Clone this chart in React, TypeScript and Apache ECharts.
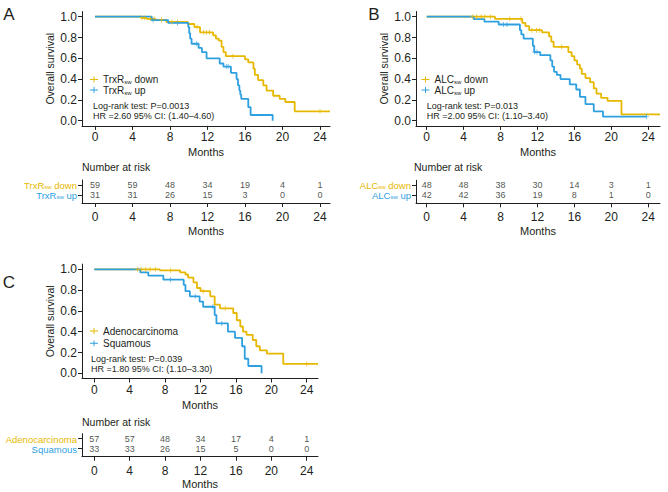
import React, { useEffect, useRef } from 'react';
import * as echarts from 'echarts';

const GOLD = '#E7B800';
const BLUE = '#2E9FDF';
const TXT = '#231f20';
const AX = '#231f20';
const FONT = '"Liberation Sans", Arial, Helvetica, sans-serif';

const monthTicks = [0, 4, 8, 12, 16, 20, 24];
const survTicks = [0, 0.2, 0.4, 0.6, 0.8, 1.0];

// ---------- Panel A : TrxR ----------
const trxDownTimes = [0, 5.0, 5.5, 6.4, 7.6, 9.9, 10.6, 11.2, 12.6, 12.9, 13.2, 13.5, 13.7, 13.95, 16.0, 16.35, 16.9, 17.05, 17.4, 17.95, 18.3, 19.0, 19.7, 20.3, 21.3, 25.07];
const trxDownSurv = [1.0, 0.99, 0.98, 0.97, 0.95, 0.93, 0.9, 0.85, 0.82, 0.79, 0.77, 0.71, 0.66, 0.62, 0.59, 0.56, 0.5, 0.44, 0.39, 0.34, 0.29, 0.24, 0.21, 0.18, 0.09, 0.09];
const trxDownCensor = [5.0, 5.3, 5.9, 6.3, 7.1, 8.2, 8.8, 10.9, 11.6, 11.9, 12.2, 14.7, 24.0];
const trxUpTimes = [0, 6.05, 7.8, 9.95, 10.05, 10.15, 10.3, 11.05, 11.4, 11.9, 13.3, 13.7, 14.5, 15.1, 15.25, 15.4, 15.5, 15.6, 16.35, 16.6, 18.95];
const trxUpSurv = [1.0, 0.968, 0.94, 0.9, 0.84, 0.79, 0.74, 0.7, 0.66, 0.6, 0.55, 0.52, 0.46, 0.4, 0.34, 0.29, 0.25, 0.21, 0.13, 0.055, 0.0];
const trxUpCensor = [6.2, 8.8, 10.85, 14.0, 14.2];
const trxDownRisk = [59, 59, 48, 34, 19, 4, 1];
const trxUpRisk = [31, 31, 26, 15, 3, 0, 0];

// ---------- Panel B : ALC ----------
const alcDownTimes = [0, 7.4, 10.35, 10.7, 11.1, 12.5, 13.25, 13.5, 13.75, 15.35, 15.7, 16.0, 16.3, 16.6, 16.8, 17.2, 17.7, 18.1, 18.4, 18.9, 19.6, 21.1, 25.28];
const alcDownSurv = [1.0, 0.98, 0.94, 0.91, 0.87, 0.85, 0.81, 0.76, 0.71, 0.66, 0.62, 0.58, 0.54, 0.5, 0.45, 0.41, 0.37, 0.31, 0.26, 0.22, 0.19, 0.06, 0.06];
const alcDownCensor = [5.0, 5.4, 5.9, 6.3, 6.9, 9.0, 10.2, 11.4, 11.9, 12.2, 14.6];
const alcUpTimes = [0, 5.1, 6.25, 7.8, 10.1, 10.25, 10.5, 11.5, 11.65, 12.3, 13.4, 13.6, 13.8, 14.1, 14.5, 15.5, 16.2, 16.6, 17.2, 18.1, 19.1, 23.8];
const alcUpSurv = [1.0, 0.976, 0.952, 0.925, 0.87, 0.83, 0.79, 0.72, 0.66, 0.63, 0.58, 0.52, 0.47, 0.44, 0.4, 0.35, 0.3, 0.23, 0.16, 0.09, 0.04, 0.04];
const alcUpCensor = [8.3, 8.7, 11.7, 11.95, 23.8];
const alcDownRisk = [48, 48, 38, 30, 14, 3, 1];
const alcUpRisk = [42, 42, 36, 19, 8, 1, 0];

// ---------- Panel C : histology ----------
const adenoTimes = [0, 7.4, 9.7, 10.3, 10.6, 11.2, 11.6, 12.0, 13.1, 13.6, 14.2, 15.7, 16.1, 16.5, 16.8, 17.2, 17.9, 18.3, 18.7, 19.5, 21.35, 25.28];
const adenoSurv = [1.0, 0.99, 0.97, 0.95, 0.92, 0.875, 0.82, 0.79, 0.74, 0.66, 0.625, 0.58, 0.51, 0.45, 0.4, 0.37, 0.32, 0.26, 0.22, 0.19, 0.09, 0.09];
const adenoCensor = [4.9, 5.3, 5.8, 6.3, 6.9, 8.6, 12.3, 14.8, 24.0];
const squamTimes = [0, 5.2, 6.1, 7.8, 10.1, 10.3, 10.8, 11.9, 12.3, 13.6, 13.8, 15.1, 15.9, 16.7, 17.0, 17.4, 18.9];
const squamSurv = [1.0, 0.97, 0.94, 0.9, 0.85, 0.79, 0.74, 0.69, 0.64, 0.56, 0.48, 0.4, 0.34, 0.26, 0.14, 0.07, 0.0];
const squamCensor = [8.6, 11.4, 13.4, 14.4];
const adenoRisk = [57, 57, 48, 34, 17, 4, 1];
const squamRisk = [33, 33, 26, 15, 5, 0, 0];

const PLUS = 'path://M4.2,0H5.8V10H4.2Z M0,4.2H10V5.8H0Z';
const LEG_ICON = 'path://M0,4.4H10V5.6H0Z M4.4,1.4H5.6V8.6H4.4Z';

function survAt(times: number[], surv: number[], t: number) {
  let s = surv[0];
  for (let i = 0; i < times.length; i++) if (times[i] <= t) s = surv[i];
  return s;
}

function richName(name: string, p: string) {
  const m = name.match(/^(TrxR|ALC)sw(.*)$/);
  if (m) return `{${p}m|${m[1]}}{${p}s|sw}{${p}m|${m[2]}}`;
  return `{${p}m|${name}}`;
}

type Curve = { name: string; times: number[]; surv: number[]; censor: number[]; color: string };

const panels = [
  {
    letter: 'A', letterPos: [9, 14],
    plot: { left: 82, top: 11.5, width: 248, height: 114.4 },
    table: { left: 82, top: 180, width: 248, height: 23 },
    xMin: -1.387, xMax: 25.067,
    curves: [
      { name: 'TrxRsw down', times: trxDownTimes, surv: trxDownSurv, censor: trxDownCensor, color: GOLD },
      { name: 'TrxRsw up', times: trxUpTimes, surv: trxUpSurv, censor: trxUpCensor, color: BLUE },
    ] as Curve[],
    risk: [trxDownRisk, trxUpRisk],
    legend: { left: 90, top: 74.5, gap: 0 },
    stats: { x: 93, y: 106, dy: 10, lines: ['Log-rank test: P=0.0013', 'HR =2.60 95% CI: (1.40–4.60)'] },
    nar: [82, 167],
  },
  {
    letter: 'B', letterPos: [374, 14],
    plot: { left: 416, top: 11.5, width: 244, height: 114.4 },
    table: { left: 416, top: 180.3, width: 244, height: 23 },
    xMin: -1.159, xMax: 25.277,
    curves: [
      { name: 'ALCsw down', times: alcDownTimes, surv: alcDownSurv, censor: alcDownCensor, color: GOLD },
      { name: 'ALCsw up', times: alcUpTimes, surv: alcUpSurv, censor: alcUpCensor, color: BLUE },
    ] as Curve[],
    risk: [alcDownRisk, alcUpRisk],
    legend: { left: 421.5, top: 74.5, gap: 0 },
    stats: { x: 426.7, y: 106, dy: 10, lines: ['Log-rank test: P=0.013', 'HR =2.00 95% CI: (1.10–3.40)'] },
    nar: [414, 167],
  },
  {
    letter: 'C', letterPos: [9, 282],
    plot: { left: 82, top: 264.1, width: 236, height: 114.4 },
    table: { left: 82, top: 433.7, width: 236, height: 23 },
    xMin: -1.39, xMax: 25.277,
    curves: [
      { name: 'Adenocarcinoma', times: adenoTimes, surv: adenoSurv, censor: adenoCensor, color: GOLD },
      { name: 'Squamous', times: squamTimes, surv: squamSurv, censor: squamCensor, color: BLUE },
    ] as Curve[],
    risk: [adenoRisk, squamRisk],
    legend: { left: 90, top: 326, gap: 2.3 },
    stats: { x: 91, y: 359, dy: 10.3, lines: ['Log-rank test: P=0.039', 'HR =1.80 95% CI: (1.10–3.30)'] },
    nar: [82, 422],
  },
];

function buildOption() {
  const grid: any[] = [];
  const xAxis: any[] = [];
  const yAxis: any[] = [];
  const series: any[] = [];
  const legend: any[] = [];
  const graphic: any[] = [];

  const axisLine = { show: true, onZero: false, lineStyle: { color: AX, width: 1 } };
  const labelBase = { color: TXT, fontFamily: FONT };

  panels.forEach((p) => {
    const gi = grid.length;
    grid.push({ ...p.plot });
    grid.push({ ...p.table });

    const xBase = {
      type: 'value', min: p.xMin, max: p.xMax,
      axisLine,
      splitLine: { show: false },
      name: 'Months', nameLocation: 'middle',
      nameTextStyle: { ...labelBase, fontSize: 11 },
    };
    xAxis.push({
      ...xBase, gridIndex: gi, nameGap: 21,
      axisTick: { show: true, length: 4, customValues: monthTicks, lineStyle: { color: AX } },
      axisLabel: { ...labelBase, fontSize: 12, margin: 5, customValues: monthTicks },
    });
    xAxis.push({
      ...xBase, gridIndex: gi + 1, nameGap: 22,
      axisTick: { show: true, length: 4, customValues: monthTicks, lineStyle: { color: AX } },
      axisLabel: { ...labelBase, fontSize: 12, margin: 8, customValues: monthTicks },
    });

    yAxis.push({
      gridIndex: gi, type: 'value', min: -0.05, max: 1.05,
      axisLine,
      splitLine: { show: false },
      axisTick: { show: true, length: 4, customValues: survTicks, lineStyle: { color: AX } },
      axisLabel: { ...labelBase, fontSize: 12, margin: 5, customValues: survTicks, formatter: (v: number) => v.toFixed(1) },
      name: 'Overall survival', nameLocation: 'middle', nameGap: 27, nameRotate: 90,
      nameTextStyle: { ...labelBase, fontSize: 10.5 },
    });
    const [down, up] = p.curves;
    yAxis.push({
      gridIndex: gi + 1, type: 'value', min: 0, max: 2.3,
      axisLine,
      splitLine: { show: false },
      axisTick: { show: true, length: 4, customValues: [0.8, 1.8], lineStyle: { color: AX } },
      axisLabel: {
        customValues: [0.8, 1.8], margin: 5, hideOverlap: false,
        showMinLabel: true, showMaxLabel: true,
        formatter: (v: number) => (v > 1 ? richName(down.name, 'g') : richName(up.name, 'b')),
        rich: {
          gm: { color: GOLD, fontSize: 9.5, lineHeight: 9, verticalAlign: 'top', fontFamily: FONT },
          gs: { color: GOLD, fontSize: 6, lineHeight: 9, verticalAlign: 'top', padding: [3, 0, 0, 0], fontFamily: FONT },
          bm: { color: BLUE, fontSize: 9.5, lineHeight: 9, verticalAlign: 'top', fontFamily: FONT },
          bs: { color: BLUE, fontSize: 6, lineHeight: 9, verticalAlign: 'top', padding: [3, 0, 0, 0], fontFamily: FONT },
        },
      },
    });

    p.curves.forEach((c) => {
      series.push({
        type: 'line', name: c.name, xAxisIndex: gi, yAxisIndex: gi,
        data: c.times.map((t, i) => [t, c.surv[i]]),
        step: 'end', showSymbol: false, symbol: 'none',
        lineStyle: { color: c.color, width: 1.8 },
        itemStyle: { color: c.color },
        z: 3,
      });
      series.push({
        type: 'scatter', name: c.name + ' censored', xAxisIndex: gi, yAxisIndex: gi,
        data: c.censor.map((t) => [t, survAt(c.times, c.surv, t)]),
        symbol: PLUS, symbolSize: 5,
        itemStyle: { color: c.color },
        silent: true, z: 4,
      });
    });

    const rows = [1.8, 0.8];
    p.risk.forEach((arr, r) => {
      series.push({
        type: 'scatter', name: `${p.letter} risk ${r}`, xAxisIndex: gi + 1, yAxisIndex: gi + 1,
        data: monthTicks.map((m, i) => [m, rows[r], arr[i]]),
        symbolSize: 1,
        itemStyle: { color: 'rgba(0,0,0,0)' },
        label: {
          show: true, position: 'inside', fontSize: 9, color: TXT, fontFamily: FONT,
          formatter: (q: any) => String(q.value[2]),
        },
        silent: true,
      });
    });

    legend.push({
      data: p.curves.map((c) => c.name),
      orient: 'vertical', left: p.legend.left, top: p.legend.top,
      itemWidth: 8, itemHeight: 8, itemGap: p.legend.gap, padding: 0,
      icon: LEG_ICON, selectedMode: false,
      formatter: (name: string) => richName(name, 'l'),
      textStyle: {
        color: TXT, fontFamily: FONT, fontSize: 10,
        rich: {
          lm: { fontSize: 10, lineHeight: 11, color: TXT, fontFamily: FONT },
          ls: { fontSize: 6, lineHeight: 5, verticalAlign: 'bottom', color: TXT, fontFamily: FONT },
        },
      },
    });

    graphic.push({
      type: 'text', x: p.letterPos[0], y: p.letterPos[1],
      style: { text: p.letter, fontSize: 17, fontFamily: FONT, fill: TXT, align: 'center', verticalAlign: 'middle', textAlign: 'center', textVerticalAlign: 'middle' },
    });
    p.stats.lines.forEach((line, i) => {
      graphic.push({
        type: 'text', x: p.stats.x, y: p.stats.y + i * p.stats.dy,
        style: { text: line, fontSize: 9, fontFamily: FONT, fill: TXT, align: 'left', verticalAlign: 'middle', textAlign: 'left', textVerticalAlign: 'middle' },
      });
    });
    graphic.push({
      type: 'text', x: p.nar[0], y: p.nar[1],
      style: { text: 'Number at risk', fontSize: 10.5, fontFamily: FONT, fill: TXT, align: 'left', verticalAlign: 'middle', textAlign: 'left', textVerticalAlign: 'middle' },
    });
  });

  return {
    animation: false,
    backgroundColor: '#ffffff',
    textStyle: { fontFamily: FONT },
    grid, xAxis, yAxis, series, legend, graphic,
  };
}

export default function App() {
  const ref = useRef<HTMLDivElement>(null);
  useEffect(() => {
    const chart = echarts.init(ref.current as HTMLDivElement, null, { renderer: 'svg' });
    chart.setOption(buildOption() as any);
    return () => chart.dispose();
  }, []);
  return (
    <div
      ref={ref}
      style={{ position: 'fixed', left: 0, top: 0, width: 668, height: 492, background: '#fff' }}
    />
  );
}
